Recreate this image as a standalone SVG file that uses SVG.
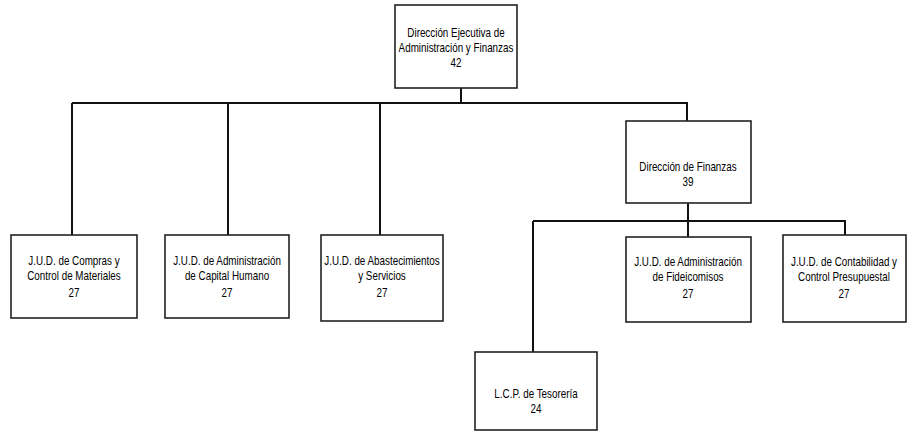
<svg xmlns="http://www.w3.org/2000/svg" width="914" height="434" viewBox="0 0 914 434">
<style>
.box{fill:#fff;stroke:#222;stroke-width:1.6}
.t{font-family:"Liberation Sans",Arial,sans-serif;font-size:12px;fill:#000;text-anchor:middle}
.c{fill:none;stroke:#111;stroke-width:2}
</style>
<rect width="914" height="434" fill="#fff"/>
<g id="connectors">
<path class="c" d="M461 88V103M72 103H687V121M72 103V235M228 103V235M380 103V235"/>
<path class="c" d="M688 203V237M533 221H845V235M533 221V352"/>
</g>
<g id="n-direccion-ejecutiva">
<rect class="box" x="395" y="5" width="122" height="83"/>
<g class="t" transform="translate(456 0) scale(0.82 1)">
<text x="0" y="37">Dirección Ejecutiva de</text>
<text x="0" y="52">Administración y Finanzas</text>
<text x="0" y="67">42</text>
</g>
</g>
<g id="n-compras">
<rect class="box" x="11" y="235" width="126" height="83"/>
<g class="t" transform="translate(74 0) scale(0.82 1)">
<text x="0" y="265">J.U.D. de Compras y</text>
<text x="0" y="280">Control de Materiales</text>
<text x="0" y="297">27</text>
</g>
</g>
<g id="n-capital-humano">
<rect class="box" x="165" y="235" width="124" height="83"/>
<g class="t" transform="translate(227 0) scale(0.82 1)">
<text x="0" y="265">J.U.D. de Administración</text>
<text x="0" y="280">de Capital Humano</text>
<text x="0" y="297">27</text>
</g>
</g>
<g id="n-abastecimientos">
<rect class="box" x="321" y="235" width="122" height="86"/>
<g class="t" transform="translate(382 0) scale(0.82 1)">
<text x="0" y="265">J.U.D. de Abastecimientos</text>
<text x="0" y="280">y Servicios</text>
<text x="0" y="297">27</text>
</g>
</g>
<g id="n-direccion-finanzas">
<rect class="box" x="626" y="121" width="125" height="82"/>
<g class="t" transform="translate(688 0) scale(0.82 1)">
<text x="0" y="171">Dirección de Finanzas</text>
<text x="0" y="186">39</text>
</g>
</g>
<g id="n-fideicomisos">
<rect class="box" x="626" y="237" width="125" height="85"/>
<g class="t" transform="translate(688 0) scale(0.82 1)">
<text x="0" y="266">J.U.D. de Administración</text>
<text x="0" y="281">de Fideicomisos</text>
<text x="0" y="298">27</text>
</g>
</g>
<g id="n-contabilidad">
<rect class="box" x="783" y="235" width="123" height="87"/>
<g class="t" transform="translate(844 0) scale(0.82 1)">
<text x="0" y="266">J.U.D. de Contabilidad y</text>
<text x="0" y="281">Control Presupuestal</text>
<text x="0" y="298">27</text>
</g>
</g>
<g id="n-tesoreria">
<rect class="box" x="475" y="352" width="122" height="78"/>
<g class="t" transform="translate(536 0) scale(0.82 1)">
<text x="0" y="398">L.C.P. de Tesorería</text>
<text x="0" y="413">24</text>
</g>
</g>
</svg>
